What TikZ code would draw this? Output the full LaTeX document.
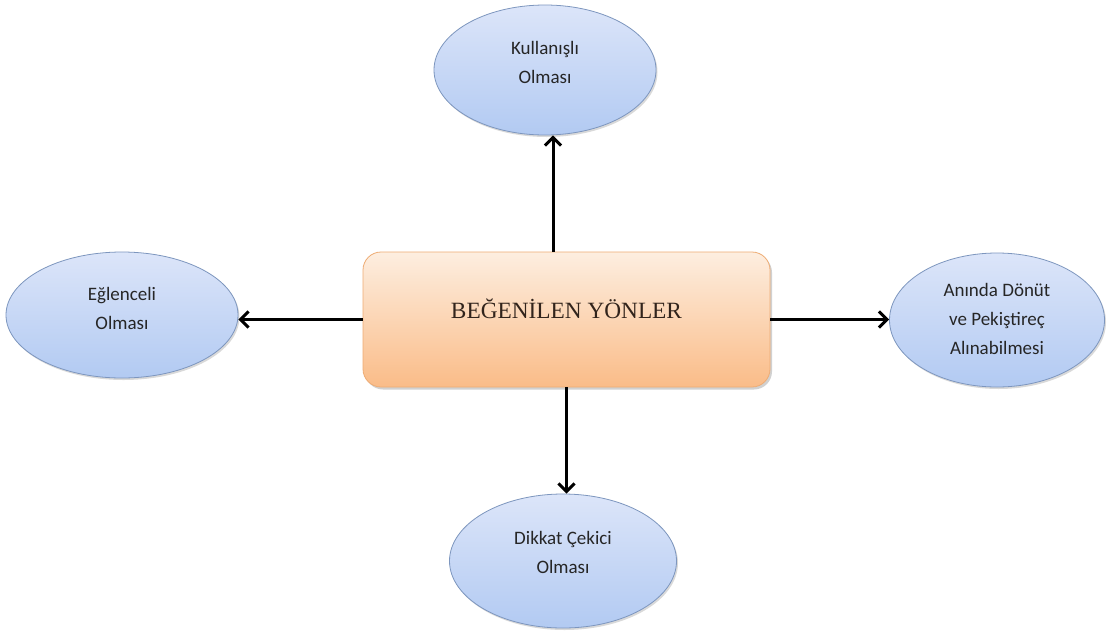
\documentclass[tikz,border=0pt]{standalone}
\usepackage{fontspec}
\setmainfont{Carlito}
\newfontfamily\titleserif{Liberation Serif}
\usetikzlibrary{shapes.geometric,arrows.meta,shadows}
\definecolor{ovaltop}{RGB}{220,229,249}
\definecolor{ovalbot}{RGB}{178,202,242}
\definecolor{ovalline}{RGB}{125,150,190}
\definecolor{recttop}{RGB}{253,238,224}
\definecolor{rectbot}{RGB}{250,188,136}
\definecolor{rectline}{RGB}{238,172,116}
\definecolor{titletext}{RGB}{50,36,28}
\begin{document}
\begin{tikzpicture}[x=1pt,y=-1pt,
  oval/.style={ellipse, draw=ovalline, line width=0.8pt, top color=ovaltop, bottom color=ovalbot,
    inner sep=0pt, align=center, text=black!85, font=\fontsize{19}{29}\selectfont,
    drop shadow={shadow xshift=1.5pt, shadow yshift=-2pt, opacity=0.15, fill=black}},
  mainbox/.style={rectangle, rounded corners=18pt, draw=rectline, line width=0.8pt,
    top color=recttop, bottom color=rectbot, minimum width=407pt, minimum height=135pt,
    inner sep=0pt, text=titletext, font=\titleserif\fontsize{23.3}{26}\selectfont,
    drop shadow={shadow xshift=2pt, shadow yshift=-2.5pt, opacity=0.18, fill=black}},
  arr/.style={line width=3pt, -{Straight Barb[length=8pt,width=16pt]}}]
\useasboundingbox (0,0) rectangle (1110,635);
\fill[white] (0,0) rectangle (1110,635);
\node[mainbox, text depth=22pt] (main) at (566.5,319.5) {BEĞENİLEN YÖNLER};
\node[oval, minimum width=222pt, minimum height=130pt, text depth=16pt] (top) at (545,70) {Kullanışlı\\Olması};
\node[oval, minimum width=232pt, minimum height=126pt, text depth=14pt] (left) at (122,315) {Eğlenceli\\Olması};
\node[oval, minimum width=215pt, minimum height=134pt, text depth=2pt] (right) at (997,320) {Anında Dönüt\\ve Pekiştireç\\Alınabilmesi};
\node[oval, minimum width=227pt, minimum height=134pt, text depth=18pt] (bottom) at (563,561) {Dikkat Çekici\\Olması};
\coordinate (topstart) at (553,252);
\draw[arr] (topstart) -- (topstart |- top.south);
\draw[arr] (main.west) -- (main.west -| left.east);
\draw[arr] (main.east) -- (main.east -| right.west);
\draw[arr] (main.south) -- (main.south |- bottom.north);
\end{tikzpicture}
\end{document}
